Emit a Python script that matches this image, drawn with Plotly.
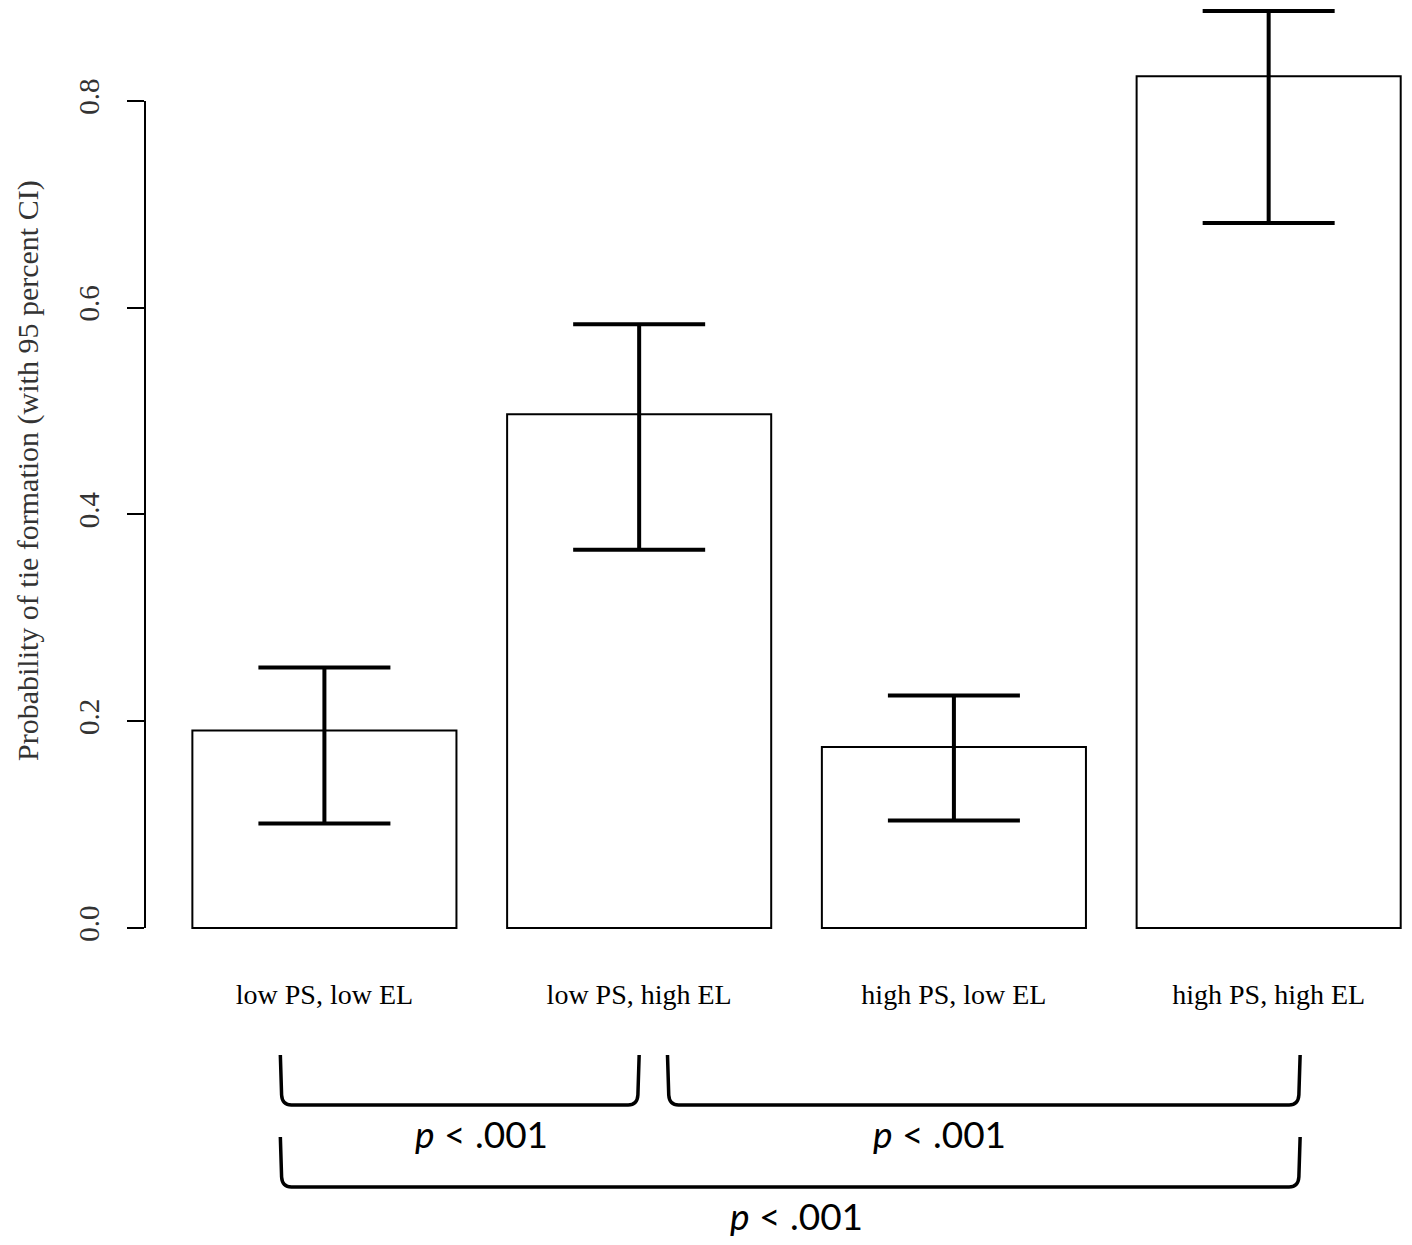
import plotly.graph_objects as go

# condition labels and estimated probabilities with 95% CI bounds
conditions = ['low PS, low EL', 'low PS, high EL', 'high PS, low EL', 'high PS, high EL']
prob = [0.191, 0.497, 0.175, 0.824]
ci_low = [0.101, 0.366, 0.104, 0.682]
ci_high = [0.252, 0.584, 0.225, 0.887]

y_ticks = [0.0, 0.2, 0.4, 0.6, 0.8]
y_title = 'Probability of tie formation (with 95 percent CI)'

# comparison brackets: (from, to) as bar positions, plus label position
brackets = [(-0.14, 1.0), (1.09, 3.1), (-0.14, 3.1)]
bracket_rows = [0, 0, 1]
p_labels = ['<i>p</i> < .001', '<i>p</i> < .001', '<i>p</i> < .001']
p_label_x = [0.5, 1.955, 1.5]

serif = 'Liberation Serif'
sans = 'Lato'

err_up = [h - p for h, p in zip(ci_high, prob)]
err_down = [p - l for p, l in zip(prob, ci_low)]

fig = go.Figure()
fig.add_trace(go.Bar(
    x=conditions, y=prob,
    marker=dict(color='white', line=dict(color='black', width=2)),
    error_y=dict(type='data', symmetric=False, array=err_up, arrayminus=err_down,
                 color='black', thickness=4, width=66),
    showlegend=False,
))

# R-style y axis line only spanning the tick range
fig.add_shape(type='line', xref='paper', yref='y', x0=0, x1=0, y0=y_ticks[0], y1=y_ticks[-1],
              line=dict(color='black', width=2))

row_top = [-95, -177]   # pixels below plot bottom
row_depth = 50
for (a, b), row in zip(brackets, bracket_rows):
    top = row_top[row]
    bot = top - row_depth
    r = 0.035
    path = (f'M {a},{top} L {a + 0.004},{bot + 10} Q {a + 0.006},{bot} {a + r},{bot} '
            f'L {b - r},{bot} Q {b - 0.006},{bot} {b - 0.004},{bot + 10} L {b},{top}')
    fig.add_shape(type='path', xref='x', yref='paper', ysizemode='pixel', yanchor=0,
                  path=path, line=dict(color='black', width=3.5))

label_shift = [-173, -255]
for txt, xpos, row in zip(p_labels, p_label_x, bracket_rows):
    fig.add_annotation(x=xpos, xref='x', y=0, yref='paper', yanchor='middle',
                       yshift=label_shift[row], text=txt, showarrow=False,
                       font=dict(family=sans, size=37, color='black'))

# y axis title
fig.add_annotation(x=0, xref='paper', xanchor='center', xshift=-117,
                   y=0.5, yref='paper', yanchor='middle', yshift=13,
                   text=y_title, textangle=-90, showarrow=False,
                   font=dict(family=serif, size=30, color='#333333'))

fig.update_layout(
    width=1396, height=1229,
    margin=dict(l=137, r=0, t=0, b=277),
    paper_bgcolor='white', plot_bgcolor='white',
    bargap=0.161,
    xaxis=dict(range=[-0.570, 3.430], showgrid=False, zeroline=False, showline=False,
               ticks='', ticklabelstandoff=15,
               tickfont=dict(family=serif, size=28, color='black')),
    yaxis=dict(range=[-0.031, 0.890], tickvals=y_ticks, tickformat='.1f',
               showgrid=False, zeroline=False, showline=False,
               ticks='outside', ticklen=17, tickwidth=2, tickcolor='black',
               tickangle=-90, ticklabelstandoff=16,
               tickfont=dict(family=serif, size=29, color='#333333')),
)

fig.write_html('out.html')
